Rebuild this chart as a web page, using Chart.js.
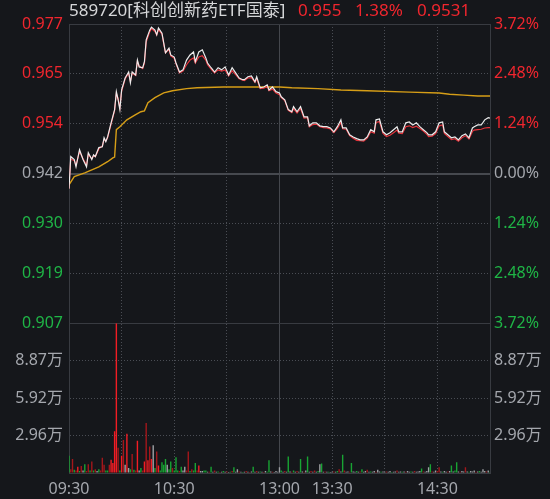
<!DOCTYPE html>
<html>
<head>
<meta charset="utf-8">
<script src="https://cdn.jsdelivr.net/npm/chart.js@4.4.1/dist/chart.umd.min.js"></script>
<style>
  body { margin: 0; background: #15171b; }
  #wrap { position: relative; width: 550px; height: 499px; }
  #graf { position: absolute; left: 0; top: 0; }
  .tt { position: absolute; top: -1px; font: 17px "Noto Sans", "Noto Sans CJK SC", sans-serif; line-height: 22px; white-space: nowrap; }
  .code { left: 69px; color: #d6d7d9; }
  .up { color: #f0262e; }
</style>
</head>
<body>
<div id="wrap">
  <canvas id="graf" width="550" height="499"></canvas>
  <div class="tt code">589720[科创创新药ETF国泰]</div>
  <div class="tt up" style="left:298px">0.955</div>
  <div class="tt up" style="left:355px">1.38%</div>
  <div class="tt up" style="left:417px">0.9531</div>
</div>
<script>
// price axis (prev close 0.942, +-3.72%)
const priceTicks = [0.90696, 0.91864, 0.93032, 0.942, 0.95368, 0.96536, 0.97704];
const priceTickLabels = ["0.907", "0.919", "0.930", "0.942", "0.954", "0.965", "0.977"];
const pctTickLabels = ["3.72%", "2.48%", "1.24%", "0.00%", "1.24%", "2.48%", "3.72%"];

// volume axis (万)
const volTicks = [0, 2.9575, 5.915, 8.8725, 11.83];
const volTickLabels = ["", "2.96万", "5.92万", "8.87万", ""];

// time axis, minutes from 09:30 (11:30 and 13:00 share minute 120)
const gridMinutes = [0, 30, 60, 90, 120, 150, 180, 210, 240];
const timeLabelMinutes = [0, 60, 120, 150, 210];
const timeLabels = ["09:30", "10:30", "13:00", "13:30", "14:30"];

// price (white) and IOPV (red)
const priceMinute = [0,1,3,4,6,8,10,11,13,14,15,17,19,20,21,22,24,26,27,28,29,30,32,33,34,35,36,38,39,40,
  42,43,44,46,47,49,50,51,53,54,55,57,58,60,61,63,65,67,69,71,72,74,76,78,79,81,83,85,87,89,
  91,93,95,97,99,100,102,104,106,107,109,111,113,114,116,118,120,121,123,125,127,128,130,132,134,136,137,139,141,143,
  145,147,149,151,153,155,156,158,160,162,164,166,168,170,172,174,175,177,179,181,183,185,187,188,190,192,194,196,198,200,
  202,204,205,207,209,211,213,214,216,218,220,222,224,226,228,230,231,233,235,237,239,240];
const priceValue = [0.9385,0.9460,0.9453,0.9436,0.9476,0.9453,0.9436,0.9469,0.9453,0.9464,0.9460,0.9481,0.9483,0.9504,0.9495,0.9506,0.9539,0.9570,0.9612,0.9593,0.9570,0.9616,0.9644,0.9651,0.9658,0.9633,0.9658,0.9651,0.9686,0.9670,
  0.9668,0.9682,0.9733,0.9756,0.9763,0.9756,0.9745,0.9761,0.9749,0.9726,0.9703,0.9714,0.9698,0.9693,0.9679,0.9658,0.9663,0.9686,0.9698,0.9705,0.9682,0.9705,0.9710,0.9691,0.9679,0.9668,0.9658,0.9668,0.9663,0.9670,
  0.9651,0.9668,0.9656,0.9644,0.9640,0.9640,0.9647,0.9649,0.9635,0.9647,0.9621,0.9623,0.9628,0.9616,0.9623,0.9612,0.9609,0.9600,0.9593,0.9570,0.9565,0.9577,0.9565,0.9577,0.9553,0.9553,0.9532,0.9539,0.9539,0.9532,
  0.9530,0.9530,0.9527,0.9518,0.9530,0.9546,0.9527,0.9527,0.9511,0.9506,0.9502,0.9499,0.9499,0.9506,0.9523,0.9518,0.9546,0.9548,0.9518,0.9511,0.9516,0.9523,0.9530,0.9518,0.9518,0.9539,0.9541,0.9534,0.9539,0.9530,
  0.9523,0.9516,0.9511,0.9511,0.9518,0.9539,0.9541,0.9518,0.9511,0.9504,0.9506,0.9499,0.9509,0.9513,0.9504,0.9527,0.9530,0.9534,0.9534,0.9546,0.9551,0.9550];
const iopvValue = [0.9385,0.9455,0.9450,0.9440,0.9472,0.9455,0.9440,0.9465,0.9455,0.9462,0.9460,0.9478,0.9485,0.9500,0.9497,0.9504,0.9536,0.9568,0.9608,0.9596,0.9574,0.9613,0.9642,0.9649,0.9655,0.9636,0.9655,0.9650,0.9683,0.9672,
  0.9666,0.9679,0.9728,0.9752,0.9760,0.9753,0.9745,0.9757,0.9747,0.9724,0.9703,0.9711,0.9696,0.9690,0.9677,0.9656,0.9660,0.9675,0.9686,0.9691,0.9679,0.9693,0.9696,0.9686,0.9675,0.9665,0.9656,0.9663,0.9660,0.9663,
  0.9649,0.9661,0.9652,0.9642,0.9639,0.9638,0.9644,0.9645,0.9634,0.9642,0.9619,0.9620,0.9624,0.9614,0.9618,0.9609,0.9605,0.9598,0.9591,0.9568,0.9563,0.9572,0.9562,0.9572,0.9550,0.9551,0.9530,0.9535,0.9536,0.9530,
  0.9528,0.9527,0.9525,0.9516,0.9526,0.9540,0.9525,0.9524,0.9509,0.9503,0.9498,0.9497,0.9496,0.9503,0.9518,0.9515,0.9540,0.9542,0.9514,0.9507,0.9510,0.9516,0.9522,0.9515,0.9514,0.9530,0.9532,0.9528,0.9531,0.9526,
  0.9520,0.9512,0.9507,0.9508,0.9514,0.9532,0.9534,0.9514,0.9507,0.9500,0.9502,0.9496,0.9504,0.9509,0.9501,0.9519,0.9522,0.9523,0.9524,0.9527,0.9528,0.9528];

// average price (yellow)
const avgMinute = [0,3,9,17,22,25,26,27,29,33,38,41,43,45,49,54,59,67,73,88,120,127,142,155,170,194,211,217,225,233,240];
const avgValue = [0.9394,0.9413,0.9422,0.9436,0.9448,0.9457,0.9459,0.9523,0.9530,0.9546,0.9558,0.9565,0.9567,0.9586,0.9598,0.9609,0.9614,0.9619,0.9621,0.9623,0.9623,0.9621,0.9619,0.9616,0.9614,0.9611,0.9609,0.9606,0.9604,0.9602,0.9602];

// volume per minute (万) and direction R/r up, g down, w flat
const volume = [
  1.37,0.3,1.1,0.26,0.2,0.5,0.15,0.55,0.2,0.7,
  0.15,0.7,0.2,0.9,0.2,0.3,0.15,0.3,0.2,1.2,
  0.65,0.2,0.2,0.65,1.05,0.8,3.3,11.83,2.0,0.2,
  1.37,2.6,0.65,3.1,0.4,0.3,1.5,0.25,0.2,2.55,
  0.2,0.4,0.2,0.9,3.95,1.0,2.1,1.1,2.2,0.4,
  1.7,0.6,0.2,0.85,0.65,1.1,0.65,0.3,0.9,0.4,
  0.2,1.25,0.2,0.15,0.5,0.2,0.5,0.2,1.7,0.15,
  0.3,0.2,0.8,0.2,0.6,0.15,0.15,0.2,0.2,0.1,
  0.1,0.5,0.1,0.2,0.1,0.12,0.08,0.1,0.15,0.1,
  0.12,0.08,0.1,0.15,0.45,0.1,0.3,0.12,0.1,0.08,
  0.1,0.15,0.1,0.08,0.12,0.5,0.1,0.15,0.1,0.12,
  0.1,0.08,0.15,0.1,1.0,0.12,0.1,0.08,0.15,0.1,
  0.45,0.2,0.1,0.15,0.1,1.3,0.12,0.1,0.2,0.1,
  0.15,0.1,1.1,0.12,0.1,0.2,1.3,0.1,0.15,0.1,
  0.2,0.1,0.15,0.7,0.75,0.1,0.12,0.1,0.1,0.08,
  0.1,0.12,0.1,0.15,0.3,0.12,1.45,0.2,0.1,0.12,
  0.1,0.8,0.12,0.1,0.15,0.1,0.12,0.3,0.1,0.15,
  0.25,0.1,0.12,0.1,0.15,0.1,0.25,0.12,0.1,0.12,
  0.1,0.12,0.1,0.15,0.08,0.1,0.12,0.2,0.1,0.12,
  0.1,0.12,0.1,0.15,0.1,0.12,0.1,0.15,0.1,0.12,
  0.15,0.35,0.12,0.1,0.15,0.45,0.7,0.12,0.1,0.2,
  0.15,0.45,0.12,0.1,0.15,0.1,0.12,0.15,0.6,0.12,
  0.2,0.85,0.12,0.1,0.15,0.12,0.45,0.12,0.1,0.15,
  0.12,0.2,0.1,0.12,0.15,0.1,0.3,0.15,0.12,0.2,0.1
];
const volDir = ("grrgrRgrwg" + "rrgrgrwgrr" + "rggrRRRRrg" + "RrwRwgrgrR" + "wgrRrRrRwg" +
  "rRggggwggr" + "gggrgwwrrg" + "rggrRwwggw" + "rgwrwgrwgw" + "rwgrgwwrwg" +
  "wrwrwgwrwg" + "wrwggwrwww" + "wgwrwgwrgw" + "rwgwrwgwrw" + "rwgwgwrwgw" +
  "wrwgrwgrww" + "rgwwgwrgww" + "rwgwwrwwgw" + "wrwwgwwrww" + "gwrwwgwrww" +
  "wgrwwwgrww" + "rrwgwwrwgw" + "ggwrwwrwgw" + "wwrwgwwwrwg").split("");

const dirColor = { R: "#f21d24", r: "#a3171b", g: "#18a433", w: "#9fa1a5" };
const red = "#f0262e", green = "#1fb546", grey = "#a4a7ad";
const gridSolid = "#383b41", gridDot = "#4a4d54";
const dots = [1, 2];

Chart.defaults.font.family = '"Noto Sans", "Noto Sans CJK SC", sans-serif';
Chart.defaults.font.size = 16;
Chart.defaults.color = grey;

function priceColor(c) {
  if (c.index < 3) return green;
  if (c.index > 3) return red;
  return grey;
}

let graf = new Chart(document.getElementById("graf"), {
  type: "bar",
  data: {
    datasets: [
      {
        type: "line", label: "价格", order: 0,
        data: priceMinute.map((m, i) => ({ x: m, y: priceValue[i] })),
        yAxisID: "y", borderColor: "#ececec", borderWidth: 1.2, pointRadius: 0, tension: 0
      },
      {
        type: "line", label: "IOPV", order: 1,
        data: priceMinute.map((m, i) => ({ x: m, y: iopvValue[i] })),
        yAxisID: "y", borderColor: "#e5333b", borderWidth: 1.2, pointRadius: 0, tension: 0
      },
      {
        type: "line", label: "均价", order: 2,
        data: avgMinute.map((m, i) => ({ x: m, y: avgValue[i] })),
        yAxisID: "y", borderColor: "#d69e17", borderWidth: 1.4, pointRadius: 0, tension: 0
      },
      {
        type: "bar", label: "成交量", order: 3,
        data: volume.map((v, i) => ({ x: i, y: v })),
        yAxisID: "yv",
        backgroundColor: volDir.map(d => dirColor[d]),
        barPercentage: 0.8, categoryPercentage: 1
      }
    ]
  },
  options: {
    responsive: false,
    animation: false,
    devicePixelRatio: 1,
    layout: { padding: { top: 24, left: 0, right: 0, bottom: 0 } },
    plugins: { legend: { display: false }, tooltip: { enabled: false } },
    scales: {
      x: {
        type: "linear", min: 0, max: 240, offset: false,
        afterBuildTicks: s => { s.ticks = gridMinutes.map(v => ({ value: v })); },
        afterFit: s => { s.height = 26; },
        ticks: {
          autoSkip: false, maxRotation: 0, padding: 7, color: grey,
          callback: v => { const k = timeLabelMinutes.indexOf(v); return k < 0 ? "" : timeLabels[k]; }
        },
        grid: {
          offset: false, drawTicks: false,
          color: c => (c.tick && c.tick.value === 120) ? "#44474d" : gridDot
        },
        border: {
          color: gridSolid,
          dash: c => (c.tick && c.tick.value !== 120 && c.tick.value !== 0 && c.tick.value !== 240) ? dots : []
        }
      },
      yv: {
        type: "linear", position: "left", stack: "left", stackWeight: 1,
        min: 0, max: 11.83,
        afterBuildTicks: s => { s.ticks = volTicks.map(v => ({ value: v })); },
        afterFit: s => { s.width = 69; },
        ticks: { autoSkip: false, padding: 6, color: grey, callback: (v, i) => volTickLabels[i] },
        grid: {
          drawTicks: false,
          color: c => c.index === 4 ? "rgba(0,0,0,0)" : (c.index === 0 ? gridSolid : gridDot)
        },
        border: { color: gridSolid, dash: c => (c.tick && c.index > 0 && c.index < 4) ? dots : [] }
      },
      y: {
        type: "linear", position: "left", stack: "left", stackWeight: 2,
        min: priceTicks[0], max: priceTicks[6],
        afterBuildTicks: s => { s.ticks = priceTicks.map(v => ({ value: v })); },
        afterFit: s => { s.width = 69; },
        ticks: { autoSkip: false, padding: 6, color: priceColor, callback: (v, i) => priceTickLabels[i] },
        grid: {
          drawTicks: false,
          color: c => c.index === 3 ? "#46494f" : ((c.index === 0 || c.index === 6) ? gridSolid : gridDot),
          lineWidth: c => c.index === 3 ? 2 : 1
        },
        border: { color: gridSolid, dash: c => (c.tick && c.index !== 0 && c.index !== 3 && c.index !== 6) ? dots : [] }
      },
      yr: {
        type: "linear", position: "right", stack: "right", stackWeight: 2,
        min: priceTicks[0], max: priceTicks[6],
        afterBuildTicks: s => { s.ticks = priceTicks.map(v => ({ value: v })); },
        afterFit: s => { s.width = 60; },
        ticks: { autoSkip: false, padding: 4, color: priceColor, callback: (v, i) => pctTickLabels[i] },
        grid: { drawOnChartArea: false, drawTicks: false },
        border: { color: gridSolid }
      },
      yvr: {
        type: "linear", position: "right", stack: "right", stackWeight: 1,
        min: 0, max: 11.83,
        afterBuildTicks: s => { s.ticks = volTicks.map(v => ({ value: v })); },
        afterFit: s => { s.width = 60; },
        ticks: { autoSkip: false, padding: 4, color: grey, callback: (v, i) => volTickLabels[i] },
        grid: { drawOnChartArea: false, drawTicks: false },
        border: { color: gridSolid }
      }
    }
  }
});
</script>
</body>
</html>
